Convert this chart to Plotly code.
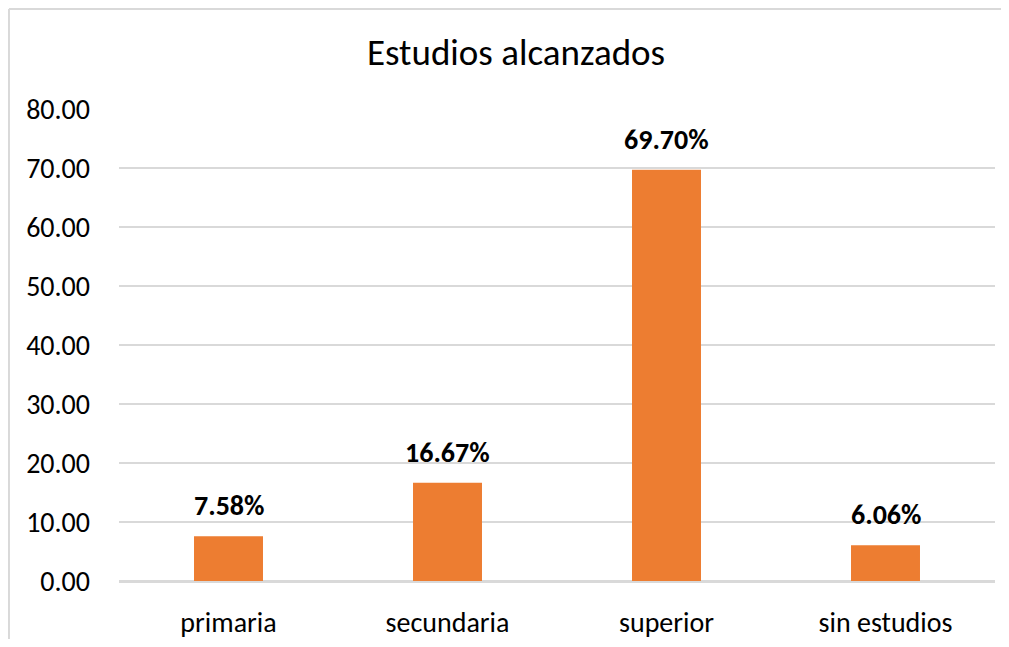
import plotly.graph_objects as go

categories = ["primaria", "secundaria", "superior", "sin estudios"]
values = [7.58, 16.67, 69.70, 6.06]
tick_vals = [0, 10, 20, 30, 40, 50, 60, 70, 80]
tick_text = ["0.00", "10.00", "20.00", "30.00", "40.00", "50.00", "60.00", "70.00", "80.00"]
labels = [f"{v:.2f}%" for v in values]

FONT = "Carlito, Noto Sans, sans-serif"

fig = go.Figure()
fig.add_trace(go.Bar(
    x=categories, y=values,
    marker=dict(color="#ED7D31", line=dict(width=0)),
    width=0.315,
    hoverinfo="skip",
))

for c, v, t in zip(categories, values, labels):
    fig.add_annotation(x=c, y=v, text=f"<b>{t}</b>", showarrow=False,
                       yanchor="bottom", yshift=11,
                       font=dict(family=FONT, size=28, color="#000000"))

# outer chart border (left and top)
fig.add_shape(type="line", xref="paper", yref="paper",
              x0=-0.1256, x1=-0.1256, y0=1.212, y1=-0.2,
              line=dict(color="#D9D9D9", width=2))
fig.add_shape(type="line", xref="paper", yref="paper",
              x0=-0.1256, x1=1.05, y0=1.212, y1=1.212,
              line=dict(color="#D9D9D9", width=2))

fig.update_layout(
    width=993, height=631,
    margin=dict(l=111, r=6, t=101, b=58, autoexpand=False),
    paper_bgcolor="white", plot_bgcolor="white",
    showlegend=False,
    title=dict(text="Estudios alcanzados", x=0.5116, xanchor="center",
               y=0.930, yanchor="middle",
               font=dict(family=FONT, size=37, color="#000000")),
    font=dict(family=FONT, color="#000000"),
)
fig.update_xaxes(
    automargin=False,
    showgrid=False, showline=True, linecolor="#D9D9D9", linewidth=1.5,
    ticks="", tickfont=dict(family=FONT, size=28, color="#000000"),
    ticklabelstandoff=16,
)
fig.update_yaxes(
    automargin=False,
    range=[0, 80], tickvals=tick_vals, ticktext=tick_text,
    showgrid=True, gridcolor="#D9D9D9", gridwidth=1.5,
    zeroline=True, zerolinecolor="#D9D9D9", zerolinewidth=1.5,
    showline=False, ticks="",
    tickfont=dict(family=FONT, size=28, color="#000000"),
    ticklabelstandoff=28,
)

fig.write_html("out.html")
